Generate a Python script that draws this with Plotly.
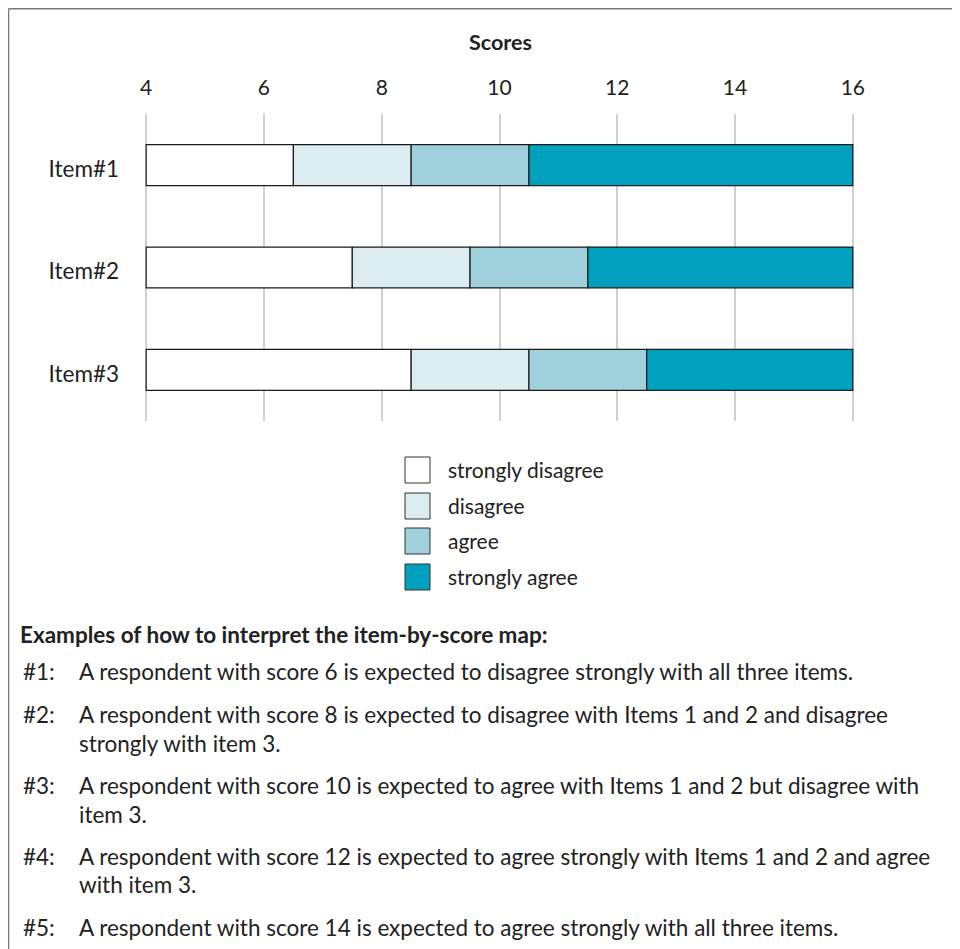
import plotly.graph_objects as go

# Items and score scale
ITEMS = ["Item#1", "Item#2", "Item#3"]
SCORE_MIN = 4
SCORE_MAX = 16
SCORE_TICKS = [4, 6, 8, 10, 12, 14, 16]

# Score thresholds where each item moves to the next response category
CUT_DISAGREE = [6.5, 7.5, 8.5]
CUT_AGREE = [8.5, 9.5, 10.5]
CUT_STRONGLY_AGREE = [10.5, 11.5, 12.5]

CATEGORIES = ["strongly disagree", "disagree", "agree", "strongly agree"]
COLORS = ["#ffffff", "#dbedf1", "#9fd0dc", "#00a0be"]

HEADING = "Examples of how to interpret the item-by-score map:"
EXAMPLES = [
    ("#1:", ["A respondent with score 6 is expected to disagree strongly with all three items."]),
    ("#2:", ["A respondent with score 8 is expected to disagree with Items 1 and 2 and disagree",
             "strongly with item 3."]),
    ("#3:", ["A respondent with score 10 is expected to agree with Items 1 and 2 but disagree with",
             "item 3."]),
    ("#4:", ["A respondent with score 12 is expected to agree strongly with Items 1 and 2 and agree",
             "with item 3."]),
    ("#5:", ["A respondent with score 14 is expected to agree strongly with all three items."]),
]

FONT = "Lato, sans-serif"
TEXT_COLOR = "#222222"

W, H = 960, 949
OFFSET = 8  # the page body margin shifts the figure by this much
M_L, M_R, M_T, M_B = 137, 114, 106, 536
PLOT_W = W - M_L - M_R
PLOT_H = H - M_T - M_B


def px_x(px):
    # page pixel -> paper coordinate
    return (px - OFFSET - M_L) / PLOT_W


def px_y(py):
    return (H - M_B - (py - OFFSET)) / PLOT_H


# segment bounds for every category
lows = [[SCORE_MIN] * len(ITEMS), CUT_DISAGREE, CUT_AGREE, CUT_STRONGLY_AGREE]
highs = [CUT_DISAGREE, CUT_AGREE, CUT_STRONGLY_AGREE, [SCORE_MAX] * len(ITEMS)]

fig = go.Figure()
for name, color, lo, hi in zip(CATEGORIES, COLORS, lows, highs):
    fig.add_trace(go.Bar(
        y=ITEMS,
        x=[h - l for l, h in zip(lo, hi)],
        base=lo,
        orientation="h",
        name=name,
        width=0.4,
        marker=dict(color=color, line=dict(color="#1a1a1a", width=1.2)),
        showlegend=False,
    ))

fig.update_layout(
    width=W,
    height=H,
    barmode="overlay",
    margin=dict(l=M_L, r=M_R, t=M_T, b=M_B),
    paper_bgcolor="white",
    plot_bgcolor="white",
    font=dict(family=FONT, size=22, color=TEXT_COLOR),
    showlegend=False,
)

fig.update_xaxes(
    side="top",
    range=[SCORE_MIN - 0.02, SCORE_MAX + 0.02],
    tickvals=SCORE_TICKS,
    ticks="",
    ticklabelstandoff=14,
    showgrid=True,
    gridcolor="#d0d0d0",
    gridwidth=1.5,
    zeroline=False,
    showline=False,
    tickfont=dict(size=21),
)
fig.update_yaxes(
    type="category",
    categoryorder="array",
    categoryarray=ITEMS,
    range=[2.5, -0.5],
    ticks="",
    ticklabelstandoff=25,
    ticklabelshift=-4,
    showgrid=False,
    zeroline=False,
    showline=False,
    tickfont=dict(size=22.5),
)

# axis title
fig.add_annotation(
    text="<b>Scores</b>", x=px_x(500), y=px_y(42), xref="paper", yref="paper",
    showarrow=False, xanchor="center", yanchor="middle", font=dict(size=21.5),
)

# legend drawn as boxes with labels
legend_y = [470, 506, 541, 577]
for name, color, ly in zip(CATEGORIES, COLORS, legend_y):
    fig.add_shape(
        type="rect", xref="paper", yref="paper",
        x0=px_x(405), x1=px_x(430), y0=px_y(ly - 13), y1=px_y(ly + 13),
        fillcolor=color, line=dict(color="#333333", width=1),
    )
    fig.add_annotation(
        text=name, x=px_x(446), y=px_y(ly - 1), xref="paper", yref="paper",
        showarrow=False, xanchor="left", yanchor="middle", font=dict(size=21),
    )

# explanatory text block
fig.add_annotation(
    text="<b>" + HEADING + "</b>", x=px_x(18), y=px_y(634), xref="paper", yref="paper",
    showarrow=False, xanchor="left", yanchor="middle", font=dict(size=22.5),
)
line_y = 671
for label, lines in EXAMPLES:
    fig.add_annotation(
        text=label, x=px_x(21), y=px_y(line_y), xref="paper", yref="paper",
        showarrow=False, xanchor="left", yanchor="middle", font=dict(size=22.5),
    )
    for i, line in enumerate(lines):
        fig.add_annotation(
            text=line, x=px_x(77), y=px_y(line_y + i * 29), xref="paper", yref="paper",
            showarrow=False, xanchor="left", yanchor="middle", font=dict(size=22.5),
        )
    line_y += (len(lines) - 1) * 28 + 43

# frame around the figure (top and left edges visible)
fig.add_shape(type="line", xref="paper", yref="paper",
              x0=px_x(8.5), x1=px_x(975), y0=px_y(8.8), y1=px_y(8.8),
              line=dict(color="#777777", width=1.5))
fig.add_shape(type="line", xref="paper", yref="paper",
              x0=px_x(8.5), x1=px_x(8.5), y0=px_y(8.8), y1=px_y(965),
              line=dict(color="#777777", width=1.5))

fig.write_html("out.html")
